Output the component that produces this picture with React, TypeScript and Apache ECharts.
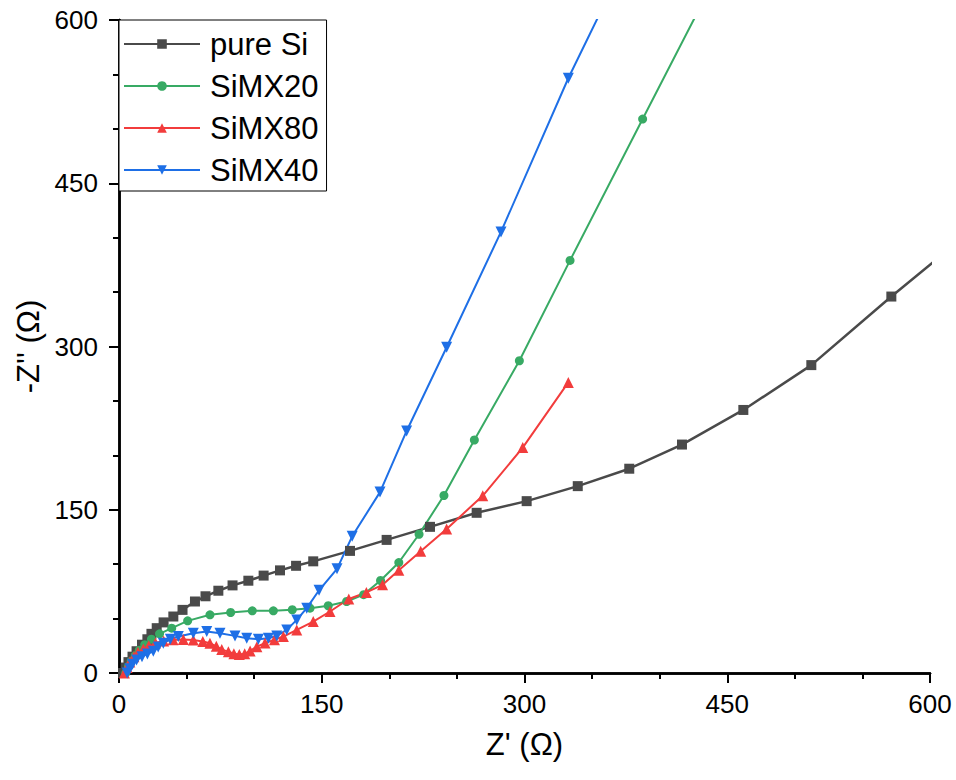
import React, { useEffect, useRef } from "react";
import * as echarts from "echarts";

const seriesNames = ["pure Si", "SiMX20", "SiMX80", "SiMX40"];

const pureSiX = [3, 5, 7, 10, 13, 17, 21, 24, 27.9, 33, 40.2, 47, 56.2, 64, 73.5, 84, 95.7, 107, 119.1, 131, 143.7, 170.9, 198, 230.1, 264.6, 301.6, 339.4, 377.5, 416.5, 461.9, 512.2, 571.4, 640];
const pureSiY = [0, 5, 10, 15, 20, 26, 31, 36, 41.2, 46.5, 51.9, 58, 65.7, 70.5, 75.6, 80.5, 84.8, 89.5, 94.3, 98.5, 102.6, 112.2, 122.3, 134.3, 147.2, 157.9, 171.7, 187.7, 209.9, 241.7, 282.9, 345.9, 416];

const simx20X = [5, 7, 9, 12, 15, 19, 24, 30, 39, 50.8, 67.3, 82.6, 98.6, 114.2, 128.2, 141.3, 154.8, 168.4, 181, 193.5, 207, 222, 240.4, 262.9, 296.2, 333.7, 387.4, 452];
const simx20Y = [0, 6, 11, 16, 21, 26, 31, 36, 41.2, 47.9, 53.5, 55.6, 57.1, 57.1, 58.1, 59.6, 61.8, 65.7, 72, 85, 101.5, 127.5, 163.1, 214.1, 286.9, 379.1, 509, 665];

const simx80X = [4, 6, 8, 11, 14, 18, 22, 27, 33, 40, 47.6, 55, 62, 67.3, 72, 76, 80.9, 85, 89, 93, 97, 102, 108, 115, 121.6, 131.5, 143.7, 156.1, 170, 183, 195, 207, 223.2, 242.4, 269.1, 298.7, 332.4];
const simx80Y = [0, 5, 10, 15, 19, 22, 25, 27.5, 29.5, 30.5, 30.8, 30.3, 29, 27.4, 24.5, 21.5, 19.6, 17.8, 17, 17.6, 20.3, 24.2, 27.5, 30.5, 33.5, 39.6, 47.3, 56.5, 68, 74, 81, 94.5, 111.8, 132.4, 162.8, 207.1, 267];

const simx40X = [6, 8, 10, 13, 17, 21, 25.4, 29, 32.8, 38, 43.9, 55, 64.9, 74.7, 85.8, 94.5, 103.1, 110.5, 116.7, 124.1, 131.5, 138.9, 148, 161.3, 172.5, 193.1, 212.8, 242.4, 282.6, 332.4, 375];
const simx40Y = [0, 4, 8, 12, 15, 17.5, 20, 24, 27.4, 31, 33.5, 36.6, 38.1, 36.6, 34.1, 32, 31, 32, 34.1, 39.6, 48.8, 59.6, 76, 95.7, 125.6, 166.2, 222.4, 299.3, 405.3, 546.5, 655];

const xTicks = [0, 150, 300, 450, 600];
const yTicks = [0, 150, 300, 450, 600];

const colors = ["#4a4a4a", "#38aa64", "#f23c3c", "#1e6fe6"];
const symbols = ["rect", "circle", "triangle", "triangle"];
const symbolRotates = [0, 0, 0, 180];
const symbolSizes = [10, 9, 11, 11];

const zip = (xs: number[], ys: number[]) => xs.map((x, i) => [x, ys[i]]);

export default function App() {
  const ref = useRef<HTMLDivElement>(null);
  useEffect(() => {
    if (!ref.current) return;
    const chart = echarts.init(ref.current, undefined, { renderer: "svg" });
    const font = "Liberation Sans, Arial, sans-serif";
    const datasets = [
      zip(pureSiX, pureSiY),
      zip(simx20X, simx20Y),
      zip(simx80X, simx80Y),
      zip(simx40X, simx40Y),
    ];
    const axisLine = { show: true, lineStyle: { color: "#000", width: 2.5 } };
    const tickStyle = { color: "#000", width: 2 };
    const xMin = xTicks[0];
    const xMax = xTicks[xTicks.length - 1];
    const xInt = xTicks[1] - xTicks[0];
    const yMin = yTicks[0];
    const yMax = yTicks[yTicks.length - 1];
    const yInt = yTicks[1] - yTicks[0];
    chart.setOption({
      animation: false,
      backgroundColor: "#fff",
      textStyle: { fontFamily: font, color: "#000" },
      grid: { left: 119, right: 26, top: 20, bottom: 107 },
      legend: {
        orient: "vertical",
        left: 119,
        top: 20,
        data: seriesNames,
        itemWidth: 76,
        itemHeight: 12,
        itemGap: 10,
        padding: [8, 8, 5, 4],
        borderColor: "#000",
        borderWidth: 1,
        backgroundColor: "#fff",
        textStyle: { fontSize: 31, lineHeight: 32, color: "#000", fontFamily: font, padding: [0, 0, 0, 5] },
      },
      xAxis: [
        {
          type: "value",
          min: xMin,
          max: xMax,
          interval: xInt,
          name: "Z' (Ω)",
          nameLocation: "middle",
          nameGap: 56,
          nameTextStyle: { fontSize: 31, color: "#000", fontFamily: font },
          axisLine,
          axisTick: { show: true, length: 10, lineStyle: tickStyle },
          minorTick: { show: true, splitNumber: 3, length: 6, lineStyle: tickStyle },
          axisLabel: { fontSize: 26, color: "#000", margin: 18, fontFamily: font },
          splitLine: { show: false },
        },
        {
          type: "value",
          position: "top",
          min: xMin,
          max: xMax,
          interval: xInt,
          axisLine,
          axisTick: { show: true, inside: true, length: 10, lineStyle: tickStyle },
          minorTick: { show: true, splitNumber: 3, length: 6, lineStyle: tickStyle },
          axisLabel: { show: false },
          splitLine: { show: false },
        },
      ],
      yAxis: [
        {
          type: "value",
          min: yMin,
          max: yMax,
          interval: yInt,
          name: "-Z'' (Ω)",
          nameLocation: "middle",
          nameGap: 74,
          nameTextStyle: { fontSize: 31, color: "#000", fontFamily: font },
          axisLine,
          axisTick: { show: true, length: 10, lineStyle: tickStyle },
          minorTick: { show: true, splitNumber: 3, length: 6, lineStyle: tickStyle },
          axisLabel: { fontSize: 26, color: "#000", margin: 21, fontFamily: font },
          splitLine: { show: false },
        },
        {
          type: "value",
          position: "right",
          min: yMin,
          max: yMax,
          interval: yInt,
          axisLine,
          axisTick: { show: true, inside: true, length: 10, lineStyle: tickStyle },
          minorTick: { show: true, splitNumber: 3, length: 6, lineStyle: tickStyle },
          axisLabel: { show: false },
          splitLine: { show: false },
        },
      ],
      series: seriesNames.map((name, i) => ({
        name,
        type: "line",
        xAxisIndex: 0,
        yAxisIndex: 0,
        data: datasets[i],
        clip: true,
        showSymbol: true,
        showAllSymbol: true,
        symbol: symbols[i],
        symbolRotate: symbolRotates[i],
        symbolSize: symbolSizes[i],
        itemStyle: { color: colors[i] },
        lineStyle: { color: colors[i], width: i === 0 ? 2.5 : 2 },
      })),
    });
    return () => chart.dispose();
  }, []);
  return (
    <div
      ref={ref}
      style={{ position: "fixed", left: 0, top: 0, width: 956, height: 780 }}
    />
  );
}
